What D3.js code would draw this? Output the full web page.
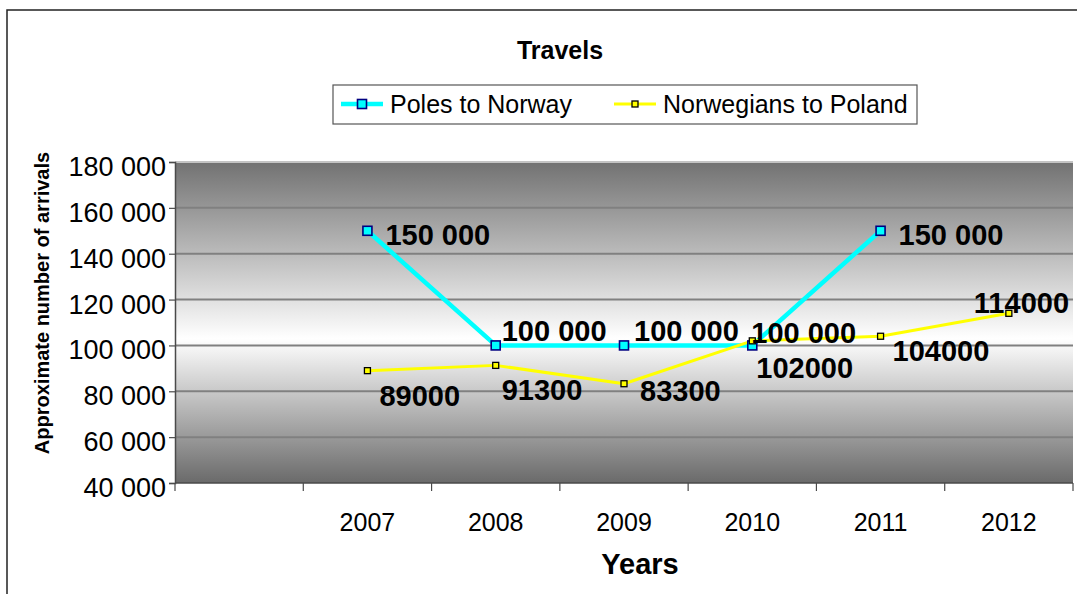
<!DOCTYPE html>
<html>
<head>
<meta charset="utf-8">
<script src="https://cdn.jsdelivr.net/npm/d3@7/dist/d3.min.js"></script>
<style>
  html, body { margin: 0; padding: 0; background: #fff; }
  svg { display: block; font-family: "Liberation Sans", Arial, sans-serif; }
</style>
</head>
<body>
<svg id="chart" width="1077" height="594"></svg>
<script>
// ---- data ----
const title = "Travels";
const categories = ["", "2007", "2008", "2009", "2010", "2011", "2012"];
const seriesNames = ["Poles to Norway", "Norwegians to Poland"];
const polesToNorway = [null, 150000, 100000, 100000, 100000, 150000, null];
const norwegiansToPoland = [null, 89000, 91300, 83300, 102000, 104000, 114000];
const yTicks = [40000, 60000, 80000, 100000, 120000, 140000, 160000, 180000];
const yTitle = "Approximate number of arrivals";
const xTitle = "Years";

// ---- layout ----
const svg = d3.select("#chart");
const W = 1077, H = 594;
const plot = { left: 175, right: 1073, top: 162, bottom: 483 };

const spaced = d3.formatLocale({ decimal: ",", thousands: " ", grouping: [3], currency: ["", ""] }).format(",");

const x = d3.scaleBand().domain(categories).range([plot.left, plot.right]).padding(0);
const y = d3.scaleLinear().domain([40000, 180000]).range([plot.bottom, plot.top]);
const cx = c => x(c) + x.bandwidth() / 2;

// outer frame
svg.append("rect").attr("x", 7).attr("y", 10).attr("width", W + 10).attr("height", H + 10)
  .attr("fill", "none").attr("stroke", "#222").attr("stroke-width", 1.5);

// gradient background
const defs = svg.append("defs");
const grad = defs.append("linearGradient").attr("id", "bg").attr("x1", 0).attr("y1", 0).attr("x2", 0).attr("y2", 1);
grad.append("stop").attr("offset", "0%").attr("stop-color", "#727272");
grad.append("stop").attr("offset", "55%").attr("stop-color", "#ffffff");
grad.append("stop").attr("offset", "100%").attr("stop-color", "#6a6a6a");

svg.append("rect").attr("x", plot.left).attr("y", plot.top)
  .attr("width", plot.right - plot.left).attr("height", plot.bottom - plot.top)
  .attr("fill", "url(#bg)");

// gridlines
svg.append("g").selectAll("line").data(yTicks.filter(t => t > 40000 && t < 180000)).join("line")
  .attr("x1", plot.left).attr("x2", plot.right)
  .attr("y1", d => y(d)).attr("y2", d => y(d))
  .attr("stroke", "#808080").attr("stroke-width", 2);
// top border of plot
svg.append("line").attr("x1", plot.left).attr("x2", plot.right)
  .attr("y1", plot.top).attr("y2", plot.top).attr("stroke", "#c4c4c4").attr("stroke-width", 2);

// y axis
const yAxis = d3.axisLeft(y).tickValues(yTicks).tickSize(6).tickFormat(d => spaced(d));
const gy = svg.append("g").attr("transform", `translate(${plot.left},0)`).call(yAxis);
gy.select(".domain").attr("stroke", "#4a4a4a").attr("stroke-width", 1.5);
gy.selectAll(".tick line").attr("stroke", "#4a4a4a").attr("stroke-width", 1.2);
gy.selectAll(".tick text").attr("font-size", 27).attr("fill", "#000")
  .attr("font-family", "Liberation Sans, Arial, sans-serif")
  .attr("x", -9).attr("dy", "0.72em").attr("y", -6);

// x axis (ticks at band boundaries)
const gx = svg.append("g").attr("transform", `translate(0,${plot.bottom})`);
gx.append("line").attr("x1", plot.left).attr("x2", plot.right).attr("y1", 0).attr("y2", 0)
  .attr("stroke", "#4a4a4a").attr("stroke-width", 1.5);
const boundaries = categories.map(c => x(c)).concat([plot.right]);
gx.selectAll("line.tk").data(boundaries).join("line").attr("class", "tk")
  .attr("x1", d => d).attr("x2", d => d).attr("y1", 0).attr("y2", 8)
  .attr("stroke", "#4a4a4a").attr("stroke-width", 1.2);
gx.selectAll("text").data(categories).join("text")
  .attr("x", d => cx(d)).attr("y", 48)
  .attr("text-anchor", "middle").attr("font-size", 25).attr("fill", "#000")
  .text(d => d);

// titles
svg.append("text").attr("x", 560).attr("y", 59).attr("text-anchor", "middle")
  .attr("font-size", 25).attr("font-weight", "bold").text(title);
svg.append("text").attr("x", 640).attr("y", 574).attr("text-anchor", "middle")
  .attr("font-size", 29).attr("font-weight", "bold").text(xTitle);
svg.append("text").attr("transform", "translate(49,303) rotate(-90)").attr("text-anchor", "middle")
  .attr("font-size", 20).attr("font-weight", "bold").text(yTitle);

// lines
const line = d3.line().defined(d => d.v != null).x(d => cx(d.c)).y(d => y(d.v));
const polesData = categories.map((c, i) => ({ c, v: polesToNorway[i] }));
const norData = categories.map((c, i) => ({ c, v: norwegiansToPoland[i] }));

svg.append("path").datum(polesData).attr("d", line)
  .attr("fill", "none").attr("stroke", "#00ffff").attr("stroke-width", 4.5).attr("stroke-linejoin", "round");
svg.append("path").datum(norData).attr("d", line)
  .attr("fill", "none").attr("stroke", "#ffff00").attr("stroke-width", 3).attr("stroke-linejoin", "round");

// markers
svg.append("g").selectAll("rect").data(polesData.filter(d => d.v != null)).join("rect")
  .attr("x", d => cx(d.c) - 4.5).attr("y", d => y(d.v) - 4.5).attr("width", 9).attr("height", 9)
  .attr("fill", "#00ffff").attr("stroke", "#000080").attr("stroke-width", 1.6);
svg.append("g").selectAll("rect").data(norData.filter(d => d.v != null)).join("rect")
  .attr("x", d => cx(d.c) - 3).attr("y", d => y(d.v) - 3).attr("width", 6).attr("height", 6)
  .attr("fill", "#ffff00").attr("stroke", "#000").attr("stroke-width", 1.3);

// data labels (offset from the point, as placed in the original)
const polesLabelOffset = [null, [18, 14], [6, -4], [10, -4], [-1, -2], [18, 14], null];
const norLabelOffset = [null, [12, 35], [6, 35], [16, 17], [4, 37], [12, 25], [-35, 0]];
const lbl = svg.append("g").attr("font-size", 29).attr("font-weight", "bold").attr("fill", "#000");
polesData.forEach((d, i) => {
  if (d.v == null) return;
  const o = polesLabelOffset[i];
  lbl.append("text").attr("x", cx(d.c) + o[0]).attr("y", y(d.v) + o[1]).text(spaced(d.v));
});
norData.forEach((d, i) => {
  if (d.v == null) return;
  const o = norLabelOffset[i];
  lbl.append("text").attr("x", cx(d.c) + o[0]).attr("y", y(d.v) + o[1]).text(String(d.v));
});

// legend
const lg = svg.append("g");
lg.append("rect").attr("x", 333).attr("y", 85).attr("width", 584).attr("height", 39)
  .attr("fill", "#fff").attr("stroke", "#555").attr("stroke-width", 1.2);
const legendItems = [
  { name: seriesNames[0], x0: 341, color: "#00ffff", sw: 4.5, ms: 9, mstroke: "#000080" },
  { name: seriesNames[1], x0: 614, color: "#ffff00", sw: 3, ms: 6, mstroke: "#000" }
];
legendItems.forEach(it => {
  lg.append("line").attr("x1", it.x0).attr("x2", it.x0 + 42).attr("y1", 104).attr("y2", 104)
    .attr("stroke", it.color).attr("stroke-width", it.sw);
  lg.append("rect").attr("x", it.x0 + 21 - it.ms / 2).attr("y", 104 - it.ms / 2)
    .attr("width", it.ms).attr("height", it.ms).attr("fill", it.color)
    .attr("stroke", it.mstroke).attr("stroke-width", it.ms > 6 ? 1.6 : 1.3);
  lg.append("text").attr("x", it.x0 + 49).attr("y", 113).attr("font-size", 25).text(it.name);
});
</script>
</body>
</html>
